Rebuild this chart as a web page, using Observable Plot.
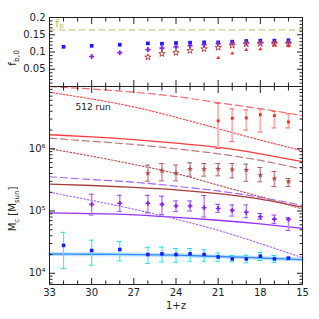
<!DOCTYPE html>
<html><head><meta charset="utf-8">
<script src="https://cdn.jsdelivr.net/npm/d3@7"></script>
<script src="https://cdn.jsdelivr.net/npm/@observablehq/plot@0.6"></script>
<style>
body{margin:0;background:#fff;}
#chart{width:319px;height:319px;position:relative;overflow:hidden;}
#chart svg{position:absolute;left:0;display:block;}
</style></head><body><div id="chart"></div>
<script>
// ---------- tick values ----------
const xMajor = [33, 30, 27, 24, 21, 18, 15];
const xMinor = [32, 31, 29, 28, 26, 25, 23, 22, 20, 19, 17, 16];
const fbMajor = [0.05, 0.1, 0.15, 0.2];
const fbMinor = [0.01,0.02,0.03,0.04,0.06,0.07,0.08,0.09,0.11,0.12,0.13,0.14,0.16,0.17,0.18,0.19];
const mMajor = [1e4, 1e5, 1e6, 1e7];
const mMajorLabels = ["10⁴", "10⁵", "10⁶", ""];
const mMinor = [7e3,8e3,9e3, 2e4,3e4,4e4,5e4,6e4,7e4,8e4,9e4, 2e5,3e5,4e5,5e5,6e5,7e5,8e5,9e5, 2e6,3e6,4e6,5e6,6e6,7e6,8e6,9e6];

// ---------- top panel: baryon fraction ----------
const fbCosmic = 0.164;
const zBlue = [32, 30, 28, 26, 25, 24, 23, 22, 21, 20, 19, 18, 17, 16];
const fbBlue = [0.115, 0.118, 0.121, 0.125, 0.124, 0.126, 0.127, 0.128, 0.128, 0.130, 0.132, 0.133, 0.133, 0.134];
const zPurple = [30, 28, 26, 25, 24, 23, 22, 21, 20, 19, 18, 17, 16];
const fbPurple = [0.087, 0.098, 0.107, 0.111, 0.115, 0.118, 0.121, 0.124, 0.126, 0.127, 0.128, 0.128, 0.128];
const zBrown = [26, 25, 24, 23, 22, 21, 20, 19, 18, 17, 16];
const fbBrown = [0.085, 0.095, 0.098, 0.104, 0.109, 0.113, 0.119, 0.123, 0.124, 0.124, 0.124];
const zRed = [21, 20, 19, 18, 17, 16];
const fbRed = [0.083, 0.096, 0.106, 0.108, 0.119, 0.117];

// ---------- bottom panel: critical mass points with error bars ----------
const mBlue   = [28000, 23200, 24100, 20000, 20500, 20000, 20500, 20000, 18300, 17000, 17000, 18800, 17000, 17500];
const mBlueHi = [45400, 34000, 32400, 26000, 26300, 25000, 25000, 23800, 21200, 19300, 19500, 21500, 19300, 18100];
const mBlueLo = [11900, 13500, 15800, 14400, 15200, 15000, 15600, 15600, 15600, 15200, 14700, 16000, 15000, 16400];
const mPurple   = [128000, 133000, 133000, 128000, 120500, 120500, 113000, 110000, 102500, 95500, 81000, 74100, 73500];
const mPurpleHi = [186000, 179000, 179000, 173000, 145000, 145000, 177000, 128000, 125000, 125000, 91200, 86100, 78000];
const mPurpleLo = [86100, 98900, 92900, 88500, 97700, 100000, 80000, 95500, 83000, 78000, 73800, 63400, 48900];
const mBrown   = [405000, 442000, 405000, 475000, 470000, 475000, 465000, 458000, 377000, 332000, 297000];
const mBrownHi = [546000, 580000, 546000, 594000, 580000, 580000, 580000, 566000, 499000, 431000, 332000];
const mBrownLo = [301000, 305000, 305000, 363000, 363000, 367000, 340000, 301000, 294000, 247000, 247000];
const mRed   = [2.80e6, 3.09e6, 3.13e6, 3.53e6, 3.40e6, 2.69e6];
const mRedHi = [5.32e6, 4.37e6, 4.21e6, 4.37e6, 3.98e6, 3.63e6];
const mRedLo = [1.01e6, 1.30e6, 2.00e6, 1.86e6, 2.16e6, 2.16e6];

// ---------- bottom panel: model curves ----------
const zCurve = [33, 30, 27, 24, 21, 18, 15];
const redSolid    = [1.68e6, 1.55e6, 1.40e6, 1.23e6, 1.05e6, 8.3e5, 6.2e5];
const redDashed   = [1.0e7, 9.1e6, 8.1e6, 6.9e6, 5.5e6, 4.4e6, 3.4e6];
const redDotted   = [8.1e6, 6.3e6, 4.7e6, 3.2e6, 2.1e6, 1.38e6, 9.3e5];
const brownSolid  = [2.7e5, 2.57e5, 2.4e5, 2.19e5, 1.9e5, 1.55e5, 1.15e5];
const brownDashed = [1.48e6, 1.32e6, 1.17e6, 1.0e6, 8.3e5, 6.5e5, 4.7e5];
const brownDotted = [1.0e6, 7.6e5, 5.6e5, 4.0e5, 2.6e5, 1.7e5, 1.07e5];
const purpleSolid = [9.3e4, 9.1e4, 8.7e4, 7.9e4, 7.1e4, 6.2e4, 5.25e4];
const purpleDashed= [3.55e5, 3.2e5, 2.9e5, 2.5e5, 2.1e5, 1.66e5, 1.23e5];
const purpleDotted= [2.0e5, 1.48e5, 1.07e5, 7.4e4, 4.9e4, 3.0e4, 1.78e4];
const blueSolid   = [2.04e4, 2.02e4, 2.0e4, 1.95e4, 1.86e4, 1.76e4, 1.66e4];

const runLabel = "512 run";

// ---------- helpers ----------
const pts = (zs, ys) => zs.map((z, i) => ({z, y: ys[i]}));
const errs = (zs, ys, lo, hi) => zs.map((z, i) => ({z, y: ys[i], lo: lo[i], hi: hi[i]}));
const CAP = 0.17;
const font = {fontFamily: "DejaVu Sans, sans-serif", fontSize: "10px", background: "transparent", color: "#222"};

function xAxes(anchor, withLabels) {
  return [
    Plot.axisX(xMajor, {anchor, tickSize: -6, tickPadding: 10, label: null, stroke: "#222",
      tickFormat: withLabels ? (d => String(d)) : (() => "")}),
    Plot.axisX(xMinor, {anchor, tickSize: -3.5, label: null, stroke: "#222", tickFormat: () => ""})
  ];
}

// ---------- top panel ----------
const topPlot = Plot.plot({
  width: 319, height: 90, marginTop: 17, marginBottom: 4, marginLeft: 49, marginRight: 17,
  style: font,
  x: {type: "linear", domain: [33, 15]},
  y: {type: "linear", domain: [0, 0.2]},
  marks: [
    Plot.ruleY([fbCosmic], {stroke: "#c9c97e", strokeWidth: 1.3, strokeDasharray: "6,4"}),
    Plot.text(["f"], {x: 32.45, y: 0.184, fill: "#b8b860", fontSize: 11}),
    Plot.text(["b"], {x: 32.45, y: 0.184, dx: 4.5, dy: 3, fill: "#b8b860", fontSize: 7}),
    Plot.dot(pts(zBlue, fbBlue), {x: "z", y: "y", symbol: "square", r: 2.1, fill: "#1a1aff"}),
    Plot.dot(pts(zPurple, fbPurple), {x: "z", y: "y", symbol: "cross", r: 2.1, fill: "#8a1cff"}),
    Plot.dot(pts(zBrown, fbBrown), {x: "z", y: "y", symbol: "star", r: 2.0, fill: "none", stroke: "#b04848", strokeWidth: 1}),
    Plot.dot(pts(zRed, fbRed), {x: "z", y: "y", symbol: "triangle", r: 1.4, fill: "#ff2020"}),
    ...xAxes("top", false),
    ...xAxes("bottom", false),
    Plot.axisY(fbMajor, {anchor: "left", tickSize: -6, tickPadding: 10, label: null, stroke: "#222", tickFormat: d => String(+d.toFixed(2))}),
    Plot.axisY(fbMinor, {anchor: "left", tickSize: -3.5, label: null, stroke: "#222", tickFormat: () => ""}),
    Plot.axisY(fbMajor, {anchor: "right", tickSize: -6, label: null, stroke: "#222", tickFormat: () => ""}),
    Plot.axisY(fbMinor, {anchor: "right", tickSize: -3.5, label: null, stroke: "#222", tickFormat: () => ""}),
    Plot.frame({stroke: "#222", strokeWidth: 1})
  ]
});

// ---------- bottom panel ----------
function errorMarks(data, barColor, capColor, width) {
  return [
    Plot.ruleX(data, {x: "z", y1: "lo", y2: "hi", stroke: barColor, strokeWidth: width}),
    Plot.ruleY(data, {y: "lo", x1: d => d.z + CAP, x2: d => d.z - CAP, stroke: capColor, strokeWidth: 1}),
    Plot.ruleY(data, {y: "hi", x1: d => d.z + CAP, x2: d => d.z - CAP, stroke: capColor, strokeWidth: 1})
  ];
}
function curve(ys, stroke, dash, width = 1.2) {
  return Plot.line(pts(zCurve, ys), {x: "z", y: "y", stroke, strokeWidth: width, strokeDasharray: dash, curve: "natural"});
}

const botPlot = Plot.plot({
  width: 319, height: 237, marginTop: 4, marginBottom: 35, marginLeft: 49, marginRight: 17,
  style: font,
  x: {type: "linear", domain: [33, 15]},
  y: {type: "log", domain: [6600, 1e7]},
  marks: [
    curve(blueSolid, "#bfe2ff", null, 4),
    curve(blueSolid, "#2f8cff", null, 1.3),
    curve(purpleSolid, "#9a30ff", null, 1.3),
    curve(purpleDashed, "#a860ff", "7,4"),
    curve(purpleDotted, "#b070ff", "1.5,2"),
    curve(brownSolid, "#a83a3a", null, 1.3),
    curve(brownDashed, "#c07878", "7,4"),
    curve(brownDotted, "#b85858", "1.5,2"),
    curve(redSolid, "#ff3a3a", null, 1.3),
    curve(redDashed, "#ff6a6a", "7,4"),
    curve(redDotted, "#ff4a4a", "1.5,2"),
    Plot.text([runLabel], {x: 29.9, y: 4.6e6, fontSize: 9, fill: "#222"}),
    ...errorMarks(errs(zBlue, mBlue, mBlueLo, mBlueHi), "#3ff0f0", "#20e0e0", 1.2),
    ...errorMarks(errs(zPurple, mPurple, mPurpleLo, mPurpleHi), "#bb80ff", "#9a40ff", 1.4),
    ...errorMarks(errs(zBrown, mBrown, mBrownLo, mBrownHi), "#d09a9a", "#b05a5a", 1.6),
    ...errorMarks(errs(zRed, mRed, mRedLo, mRedHi), "#ffb0b0", "#ff5a5a", 1.8),
    Plot.dot(pts(zBlue, mBlue), {x: "z", y: "y", symbol: "square", r: 2.0, fill: "#1a1aff"}),
    Plot.dot(pts(zPurple, mPurple), {x: "z", y: "y", symbol: "cross", r: 2.0, fill: "#8a1cff"}),
    Plot.dot(pts(zBrown, mBrown), {x: "z", y: "y", symbol: "star", r: 1.9, fill: "#b04848"}),
    Plot.dot(pts(zRed, mRed), {x: "z", y: "y", symbol: "square", r: 1.6, fill: "#ff2020"}),
    ...xAxes("top", false),
    ...xAxes("bottom", true),
    Plot.axisY(mMajor, {anchor: "left", tickSize: -6, tickPadding: 10, label: null, stroke: "#222", tickFormat: d => mMajorLabels[mMajor.indexOf(d)]}),
    Plot.axisY(mMinor, {anchor: "left", tickSize: -3.5, label: null, stroke: "#222", tickFormat: () => ""}),
    Plot.axisY(mMajor, {anchor: "right", tickSize: -6, label: null, stroke: "#222", tickFormat: () => ""}),
    Plot.axisY(mMinor, {anchor: "right", tickSize: -3.5, label: null, stroke: "#222", tickFormat: () => ""}),
    Plot.frame({stroke: "#222", strokeWidth: 1})
  ]
});

const chart = document.getElementById("chart");
topPlot.style.top = "0px";
botPlot.style.top = "82px";
chart.append(topPlot, botPlot);

// axis titles with sub/superscripts
const ts = d3.select(topPlot);
const t1 = ts.append("text").attr("transform", "translate(16,58) rotate(-90)")
  .attr("font-family", "DejaVu Sans, sans-serif").attr("font-size", 11).attr("fill", "#222");
t1.append("tspan").text("f");
t1.append("tspan").attr("font-size", 7.5).attr("dy", 2.5).text("b,0");

const bs = d3.select(botPlot);
const t2 = bs.append("text").attr("transform", "translate(16,127) rotate(-90)")
  .attr("font-family", "DejaVu Sans, sans-serif").attr("font-size", 10).attr("fill", "#222");
t2.append("tspan").text("M");
t2.append("tspan").attr("font-size", 7).attr("dy", 2.5).text("c");
t2.append("tspan").attr("dy", -2.5).text(" [M");
t2.append("tspan").attr("font-size", 7).attr("dy", 2.5).text("sun");
t2.append("tspan").attr("dy", -2.5).text("]");

bs.append("text").attr("x", 176).attr("y", 227).attr("text-anchor", "middle")
  .attr("font-family", "DejaVu Sans, sans-serif").attr("font-size", 10).attr("fill", "#222").text("1+z");
</script></body></html>
